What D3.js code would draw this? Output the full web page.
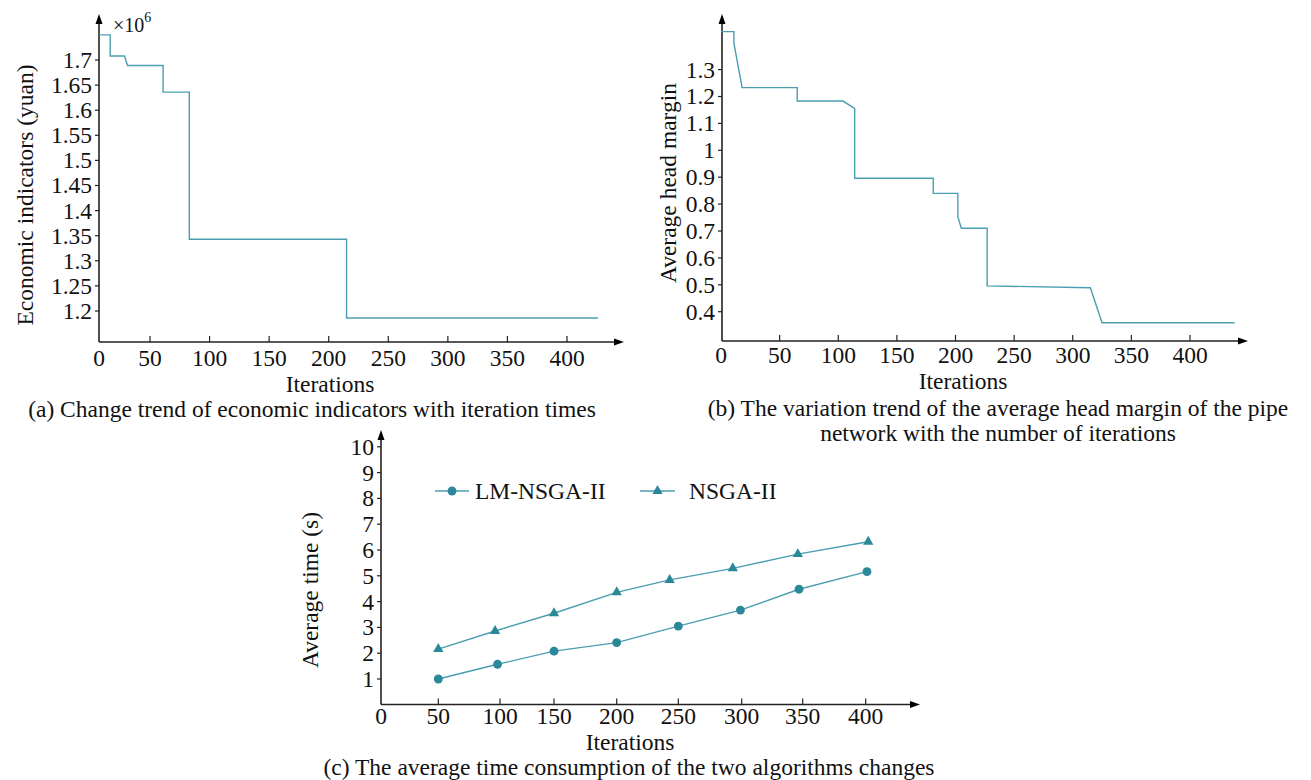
<!DOCTYPE html>
<html>
<head>
<meta charset="utf-8">
<script src="https://cdn.jsdelivr.net/npm/d3@7"></script>
<style>
  html, body { margin: 0; padding: 0; background: #fff; }
  svg { display: block; }
  text { font-family: "Liberation Serif", "Times New Roman", serif; fill: #111; }
</style>
</head>
<body>
<svg id="chart" width="1311" height="780"></svg>
<script>
// ---------- DATA ----------
// (a) economic indicator (x10^6 yuan) vs iterations (step curve corners)
const econIter = [0, 11, 11, 25, 28, 61, 61, 83, 83, 215, 215, 426];
const econVal  = [1.750, 1.750, 1.708, 1.708, 1.689, 1.689, 1.636, 1.636, 1.343, 1.343, 1.186, 1.186];
const econYTicks = ["1.2", "1.25", "1.3", "1.35", "1.4", "1.45", "1.5", "1.55", "1.6", "1.65", "1.7"];

// (b) average head margin vs iterations
const headIter = [0, 11, 11, 18, 65, 65, 104, 114, 114, 181, 181, 202, 202, 205, 227, 227, 315, 325, 438];
const headVal  = [1.441, 1.441, 1.398, 1.233, 1.233, 1.183, 1.183, 1.156, 0.896, 0.896, 0.840, 0.840, 0.753, 0.710, 0.710, 0.496, 0.489, 0.359, 0.359];
const headYTicks = ["0.4", "0.5", "0.6", "0.7", "0.8", "0.9", "1", "1.1", "1.2", "1.3"];

// shared x tick labels
const iterTicks = [0, 50, 100, 150, 200, 250, 300, 350, 400];

// (c) average time
const seriesNames = ["LM-NSGA-II", "NSGA-II"];
const lmIter   = [50, 98, 150, 200, 250, 299, 347, 401];
const lmTime   = [1.0, 1.57, 2.08, 2.41, 3.05, 3.67, 4.48, 5.16];
const nsgaIter = [50, 96, 150, 200, 243, 293, 346, 402];
const nsgaTime = [2.16, 2.86, 3.55, 4.36, 4.84, 5.29, 5.84, 6.32];
const timeYTicks = [1, 2, 3, 4, 5, 6, 7, 8, 9, 10];

// ---------- STYLE ----------
const FONT = 23.5;
const lineColor = "#4b9eb1";
const markColor = "#2b8899";
const axisColor = "#222";

const svg = d3.select("#chart");
const defs = svg.append("defs");
defs.append("marker").attr("id", "arrow").attr("viewBox", "0 0 10 10")
  .attr("refX", 0).attr("refY", 5).attr("markerWidth", 10).attr("markerHeight", 10)
  .attr("markerUnits", "userSpaceOnUse").attr("orient", "auto")
  .append("path").attr("d", "M0,1.5 L10,5 L0,8.5 Z").attr("fill", "#000");

function drawAxes(g, o) {
  g.append("line").attr("x1", o.x0).attr("y1", o.y0).attr("x2", o.xEnd).attr("y2", o.y0)
    .attr("stroke", axisColor).attr("stroke-width", 1.6).attr("marker-end", "url(#arrow)");
  g.append("line").attr("x1", o.x0).attr("y1", o.y0).attr("x2", o.x0).attr("y2", o.yTop)
    .attr("stroke", axisColor).attr("stroke-width", 1.6).attr("marker-end", "url(#arrow)");
  o.xTicks.forEach(t => {
    const x = o.xScale(t);
    if (t !== 0) {
      g.append("line").attr("x1", x).attr("x2", x).attr("y1", o.y0).attr("y2", o.y0 - 6)
        .attr("stroke", axisColor).attr("stroke-width", 1.2);
    }
    g.append("text").attr("x", x).attr("y", o.xLabelY).attr("text-anchor", "middle")
      .attr("font-size", FONT).text(t);
  });
  o.yTicks.forEach(t => {
    const y = o.yScale(+t);
    g.append("line").attr("x1", o.x0).attr("x2", o.x0 - 4).attr("y1", y).attr("y2", y)
      .attr("stroke", axisColor).attr("stroke-width", 1.2);
    g.append("text").attr("x", o.x0 - 7).attr("y", y).attr("dy", "0.34em")
      .attr("text-anchor", "end").attr("font-size", FONT).text(t);
  });
}

// ---------- PANEL (a) ----------
{
  const g = svg.append("g");
  const x = d3.scaleLinear().domain([0, 50, 400]).range([99, 150, 567]);
  const y = d3.scaleLinear().domain([1.2, 1.7]).range([311, 60]);
  drawAxes(g, { x0: 99, y0: 342, xEnd: 614, yTop: 24, xScale: x, yScale: y,
    xTicks: iterTicks, yTicks: econYTicks, xLabelY: 366 });
  const pts = econIter.map((d, i) => [x(d), y(econVal[i])]);
  g.append("path").attr("d", d3.line()(pts)).attr("fill", "none")
    .attr("stroke", lineColor).attr("stroke-width", 1.4);
  const t = g.append("text").attr("x", 113).attr("y", 32).attr("font-size", 20);
  t.append("tspan").text("×10");
  t.append("tspan").attr("dy", -10).attr("font-size", 14).text("6");
  g.append("text").attr("transform", "translate(33,195) rotate(-90)")
    .attr("text-anchor", "middle").attr("font-size", FONT).text("Economic indicators (yuan)");
  g.append("text").attr("x", 330).attr("y", 392).attr("text-anchor", "middle")
    .attr("font-size", FONT).text("Iterations");
  g.append("text").attr("x", 312).attr("y", 417).attr("text-anchor", "middle")
    .attr("font-size", FONT).text("(a) Change trend of economic indicators with iteration times");
}

// ---------- PANEL (b) ----------
{
  const g = svg.append("g");
  const x = d3.scaleLinear().domain([0, 400]).range([721, 1190]);
  const y = d3.scaleLinear().domain([0.4, 1.3]).range([311.7, 69.6]);
  drawAxes(g, { x0: 722, y0: 341, xEnd: 1238, yTop: 24, xScale: x, yScale: y,
    xTicks: iterTicks, yTicks: headYTicks, xLabelY: 363 });
  const pts = headIter.map((d, i) => [x(d), y(headVal[i])]);
  g.append("path").attr("d", d3.line()(pts)).attr("fill", "none")
    .attr("stroke", lineColor).attr("stroke-width", 1.4);
  g.append("text").attr("transform", "translate(676,183) rotate(-90)")
    .attr("text-anchor", "middle").attr("font-size", FONT).text("Average head margin");
  g.append("text").attr("x", 963).attr("y", 389).attr("text-anchor", "middle")
    .attr("font-size", FONT).text("Iterations");
  g.append("text").attr("x", 998).attr("y", 416).attr("text-anchor", "middle")
    .attr("font-size", FONT).text("(b) The variation trend of the average head margin of the pipe");
  g.append("text").attr("x", 998).attr("y", 441).attr("text-anchor", "middle")
    .attr("font-size", FONT).text("network with the number of iterations");
}

// ---------- PANEL (c) ----------
{
  const g = svg.append("g");
  const x = d3.scaleLinear().domain(iterTicks)
    .range([381, 438.3, 500, 554, 616.7, 678.3, 741.7, 802.7, 865.7]);
  const y = d3.scaleLinear().domain([0, 10]).range([704.8, 446.8]);
  drawAxes(g, { x0: 381, y0: 704.5, xEnd: 910, yTop: 440, xScale: x, yScale: y,
    xTicks: iterTicks, yTicks: timeYTicks, xLabelY: 724 });
  const line = d3.line();
  const lmPts = lmIter.map((d, i) => [x(d), y(lmTime[i])]);
  const nsPts = nsgaIter.map((d, i) => [x(d), y(nsgaTime[i])]);
  g.append("path").attr("d", line(lmPts)).attr("fill", "none").attr("stroke", lineColor).attr("stroke-width", 1.4);
  g.append("path").attr("d", line(nsPts)).attr("fill", "none").attr("stroke", lineColor).attr("stroke-width", 1.4);
  const circ = d3.symbol().type(d3.symbolCircle).size(62);
  const tri = d3.symbol().type(d3.symbolTriangle).size(46);
  g.selectAll(".lm").data(lmPts).enter().append("path")
    .attr("transform", d => `translate(${d[0]},${d[1]})`).attr("d", circ).attr("fill", markColor);
  g.selectAll(".ns").data(nsPts).enter().append("path")
    .attr("transform", d => `translate(${d[0]},${d[1]})`).attr("d", tri).attr("fill", markColor);
  const leg = [
    { x1: 435, x2: 469, y: 491, sym: circ, tx: 475, name: seriesNames[0] },
    { x1: 640, x2: 675, y: 491, sym: tri, tx: 689, name: seriesNames[1] }
  ];
  leg.forEach(l => {
    g.append("line").attr("x1", l.x1).attr("x2", l.x2).attr("y1", l.y).attr("y2", l.y)
      .attr("stroke", lineColor).attr("stroke-width", 1.4);
    g.append("path").attr("transform", `translate(${(l.x1 + l.x2) / 2},${l.y})`).attr("d", l.sym).attr("fill", markColor);
    g.append("text").attr("x", l.tx).attr("y", l.y).attr("dy", "0.34em").attr("font-size", FONT).text(l.name);
  });
  g.append("text").attr("transform", "translate(318,590) rotate(-90)")
    .attr("text-anchor", "middle").attr("font-size", FONT).text("Average time (s)");
  g.append("text").attr("x", 630).attr("y", 750).attr("text-anchor", "middle")
    .attr("font-size", FONT).text("Iterations");
  g.append("text").attr("x", 629).attr("y", 775).attr("text-anchor", "middle")
    .attr("font-size", FONT).text("(c) The average time consumption of the two algorithms changes");
}
</script>
</body>
</html>
